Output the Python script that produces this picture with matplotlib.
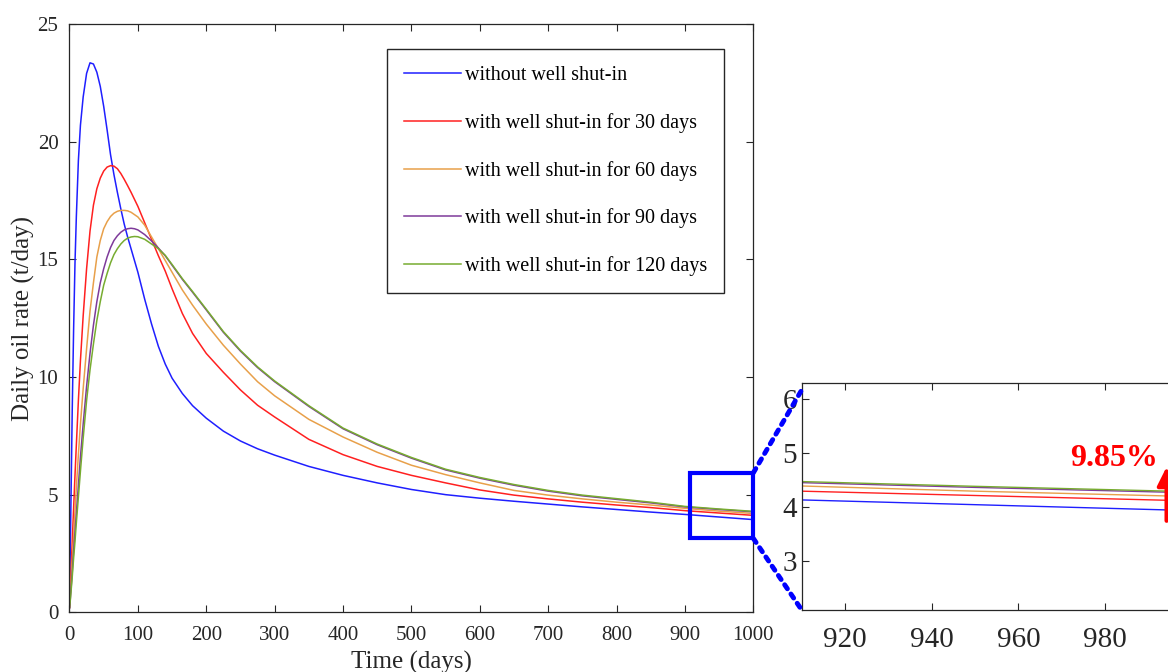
import matplotlib
matplotlib.use('Agg')
import matplotlib.pyplot as plt
from matplotlib.patches import Rectangle, ConnectionPatch

plt.rcParams['font.family'] = 'Liberation Serif'

# time axis (days) shared by all scenarios
t_days = [0, 1, 2, 4, 6, 8, 10, 13, 16, 20, 25, 30, 35, 40, 45, 50, 55, 60, 65, 70,
          75, 80, 85, 90, 95, 100, 110, 120, 130, 140, 150, 165, 180, 200, 225, 250,
          275, 300, 350, 400, 450, 500, 550, 600, 650, 700, 750, 800, 850, 900, 950, 1000]

# daily oil rate (t/day)
q_no_shutin = [0.2, 2.3, 4.4, 8.6, 12.0, 14.8, 16.8, 19.2, 20.7, 21.9, 22.9, 23.35, 23.3, 22.95,
               22.35, 21.5, 20.5, 19.45, 18.6, 17.85, 17.15, 16.5, 15.95, 15.45, 14.95, 14.45,
               13.3, 12.25, 11.3, 10.55, 9.95, 9.3, 8.78, 8.25, 7.7, 7.28, 6.95, 6.68, 6.2, 5.82,
               5.5, 5.22, 5.0, 4.85, 4.72, 4.6, 4.48, 4.37, 4.26, 4.16, 4.05, 3.94]
q_shut_30 = [0.2, 0.9, 1.6, 3.0, 4.4, 5.8, 7.1, 9.0, 10.7, 12.6, 14.6, 16.2, 17.3, 18.0, 18.45,
             18.75, 18.92, 18.98, 18.96, 18.85, 18.65, 18.4, 18.13, 17.85, 17.55, 17.25, 16.55,
             15.85, 15.15, 14.5, 13.75, 12.7, 11.85, 11.0, 10.2, 9.45, 8.8, 8.3, 7.35, 6.7, 6.2,
             5.82, 5.5, 5.2, 4.98, 4.82, 4.68, 4.56, 4.45, 4.32, 4.22, 4.12]
q_shut_60 = [0.2, 0.7, 1.2, 2.2, 3.2, 4.3, 5.3, 6.7, 8.0, 9.5, 11.2, 12.8, 14.0, 15.1, 15.8,
             16.3, 16.6, 16.82, 16.96, 17.04, 17.08, 17.08, 17.06, 17.0, 16.9, 16.8, 16.45,
             15.95, 15.45, 14.95, 14.45, 13.7, 13.05, 12.25, 11.35, 10.55, 9.8, 9.2, 8.2, 7.45,
             6.8, 6.25, 5.85, 5.5, 5.18, 4.98, 4.82, 4.68, 4.56, 4.42, 4.3, 4.2]
q_shut_90 = [0.2, 0.5, 0.9, 1.7, 2.6, 3.4, 4.2, 5.4, 6.6, 8.0, 9.6, 11.0, 12.2, 13.2, 14.0,
             14.6, 15.1, 15.5, 15.8, 16.0, 16.15, 16.25, 16.3, 16.32, 16.3, 16.25, 16.05,
             15.78, 15.48, 15.15, 14.75, 14.15, 13.6, 12.85, 11.9, 11.1, 10.4, 9.8, 8.75, 7.8,
             7.12, 6.55, 6.05, 5.7, 5.4, 5.15, 4.95, 4.8, 4.65, 4.48, 4.37, 4.27]
q_shut_120 = [0.2, 0.45, 0.8, 1.5, 2.3, 3.0, 3.8, 4.9, 6.0, 7.4, 9.0, 10.3, 11.4, 12.4, 13.2,
              13.9, 14.4, 14.85, 15.2, 15.45, 15.65, 15.8, 15.9, 15.95, 15.97, 15.96, 15.85,
              15.65, 15.45, 15.17, 14.78, 14.18, 13.63, 12.88, 11.93, 11.13, 10.43, 9.83, 8.78,
              7.83, 7.15, 6.58, 6.08, 5.73, 5.43, 5.18, 4.98, 4.83, 4.68, 4.5, 4.39, 4.29]

labels = ['without well shut-in', 'with well shut-in for 30 days', 'with well shut-in for 60 days',
          'with well shut-in for 90 days', 'with well shut-in for 120 days']
colors = ['#1f1fff', '#ff2020', '#e8a04a', '#7e3a9a', '#77ac30']
series = [q_no_shutin, q_shut_30, q_shut_60, q_shut_90, q_shut_120]

gain_text = '9.85%'

fig = plt.figure(figsize=(11.68, 6.72), dpi=100)
ax = fig.add_axes([0.0595, 0.0888, 0.5855, 0.8755])

for q, c, lab in zip(series, colors, labels):
    ax.plot(t_days, q, color=c, lw=1.1, label=lab)

ax.set_xlim(0, 1000)
ax.set_ylim(0, 25)
ax.set_xticks(range(0, 1001, 100))
ax.set_yticks(range(0, 26, 5))
ax.tick_params(direction='in', top=True, right=True, labelsize=15, colors='#262626', length=5)
ax.tick_params(axis='x', pad=10)
ax.tick_params(axis='y', pad=8)
for s in ax.spines.values():
    s.set_color('#262626')
    s.set_linewidth(0.9)
ax.set_xlabel('Time (days)', fontsize=18, color='#262626', labelpad=4)
ax.set_ylabel('Daily oil rate (t/day)', fontsize=18, color='#262626', labelpad=2)

leg = ax.legend(loc='upper right', bbox_to_anchor=(0.957, 0.9575), borderaxespad=0,
                fontsize=14.5, handlelength=2.8, handletextpad=0.2, labelspacing=1.38,
                borderpad=0.85, fancybox=False, framealpha=1)
leg.get_frame().set_edgecolor('#262626')
leg.get_frame().set_linewidth(1.0)

# zoom window on the tail
y_lo, y_hi = 3.14, 5.93
ax.add_patch(Rectangle((908, y_lo), 92, y_hi - y_lo, fill=False, edgecolor='#0000ff',
                       lw=3, clip_on=False, zorder=5))

# inset (runs past the right edge of the figure)
axins = fig.add_axes([0.6864, 0.0923, 0.3339, 0.3375])
for q, c in zip(series, colors):
    axins.plot(t_days, q, color=c, lw=1.0)
axins.set_xlim(910, 1000)
axins.set_ylim(2.1, 6.3)
axins.set_xticks([920, 940, 960, 980])
axins.set_yticks([3, 4, 5, 6])
axins.tick_params(direction='in', top=True, right=True, labelsize=21, colors='#262626', length=5)
axins.tick_params(axis='x', pad=12)
for s in axins.spines.values():
    s.set_color('#262626')
    s.set_linewidth(0.9)

axins.annotate('', xy=(994.2, 4.8), xytext=(994.2, 3.7),
               arrowprops=dict(arrowstyle='-|>', color='red', lw=3, mutation_scale=28))
axins.text(992.2, 4.9, gain_text, color='red', fontsize=23, fontweight='bold',
           ha='right', va='center')

for ya, yb in [(y_hi, 0.97), (y_lo, 0.0)]:
    con = ConnectionPatch(xyA=(1000, ya), coordsA=ax.transData, xyB=(0, yb),
                          coordsB=axins.transAxes, color='#0000ff', lw=3.5,
                          linestyle=(0, (1, 1.3)))
    fig.add_artist(con)

fig.savefig('out.png', dpi=100)
